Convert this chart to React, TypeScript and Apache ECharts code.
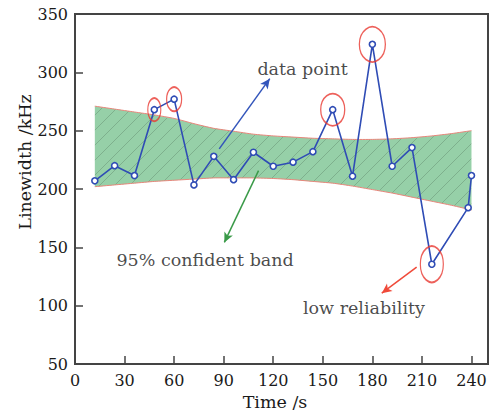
import React, { useEffect, useRef } from "react";
import * as echarts from "echarts";

// ---- data ----
const times = [12, 24, 36, 48, 60, 72, 84, 96, 108, 120, 132, 144, 156, 168, 180, 192, 204, 216, 238, 240];
const linewidth = [207, 220, 211.5, 268, 277, 203.5, 228, 208, 231.5, 219.5, 223, 232, 268, 211, 324, 219.5, 235.5, 135.5, 184, 211.5];

const bandTimes = [12, 24, 36, 48, 60, 72, 84, 96, 108, 120, 132, 144, 156, 168, 180, 192, 204, 216, 228, 240];
const bandUpper = [271, 268.5, 266, 263.5, 260.5, 256, 252, 249.5, 247, 245.5, 244.5, 243.5, 243, 242.5, 242.5, 243, 244, 245.5, 247.5, 250];
const bandLower = [202, 203.5, 205, 206.5, 207.5, 208.5, 209.5, 209.5, 209.5, 209, 208, 206.5, 205, 202.5, 199.5, 196.5, 193, 189.5, 186, 182];

const outlierIndex = [3, 4, 12, 14, 17];

const xTicks = [0, 30, 60, 90, 120, 150, 180, 210, 240];
const yTicks = [50, 100, 150, 200, 250, 300, 350];

const annotationTexts = ["data point", "95% confident band", "low reliability"];
const annotationAnchors = [
  [110.4, 302.6],
  [25.1, 139.3],
  [138, 97.8],
];
const arrowStarts = [
  [87.3, 234.4],
  [111.1, 215.8],
  [206.8, 133.1],
];
const arrowEnds = [
  [117.9, 294.6],
  [90.4, 154.2],
  [185.7, 110.7],
];

// ---- styles ----
const FONT = "DejaVu Serif";
const ellipseSizes = [
  [13, 23],
  [15, 24],
  [24, 32],
  [26, 35],
  [23, 36],
];
const arrowColors = ["#3355bb", "#3a9a48", "#f04a3a"];

function makeHatch(): HTMLCanvasElement {
  const s = 15;
  const c = document.createElement("canvas");
  c.width = s;
  c.height = s;
  const ctx = c.getContext("2d")!;
  ctx.fillStyle = "#96d0a8";
  ctx.fillRect(0, 0, s, s);
  ctx.strokeStyle = "rgba(80,115,90,0.38)";
  ctx.lineWidth = 0.9;
  ctx.beginPath();
  ctx.moveTo(-1, s + 1);
  ctx.lineTo(s + 1, -1);
  ctx.stroke();
  return c;
}

export default function App() {
  const ref = useRef<HTMLDivElement>(null);
  useEffect(() => {
    if (!ref.current) return;
    const chart = echarts.init(ref.current, null, { renderer: "svg" });
    const hatch = makeHatch();

    const mainData = times.map((t, i) => [t, linewidth[i]]);
    const bandData = bandTimes.map((t, i) => [t, bandLower[i], bandUpper[i]]);
    const outlierData = outlierIndex.map((idx, k) => ({
      value: [times[idx], linewidth[idx]],
      symbolSize: ellipseSizes[k],
    }));
    const annData = annotationTexts.map((txt, i) => ({
      value: annotationAnchors[i],
      label: { formatter: txt },
    }));
    const arrowData = arrowStarts.map((s, i) => [
      { coord: s, lineStyle: { color: arrowColors[i], width: 1.5, type: "solid" }, itemStyle: { color: arrowColors[i] } },
      { coord: arrowEnds[i], itemStyle: { color: arrowColors[i] } },
    ]);

    chart.setOption({
      animation: false,
      backgroundColor: "#ffffff",
      grid: {
        left: 75,
        right: 4,
        top: 14,
        bottom: 53,
        show: true,
        borderColor: "#444",
        borderWidth: 2,
        backgroundColor: "transparent",
      },
      xAxis: {
        type: "value",
        min: xTicks[0],
        max: 250,
        interval: xTicks[1] - xTicks[0],
        axisLine: { show: true, lineStyle: { color: "#444", width: 2 } },
        axisTick: { show: true, inside: true, length: 8, lineStyle: { color: "#444", width: 1.5 } },
        axisLabel: { showMaxLabel: false, margin: 8, color: "#1a1a1a", fontFamily: FONT, fontSize: 16 },
        splitLine: { show: false },
      },
      yAxis: {
        type: "value",
        min: yTicks[0],
        max: yTicks[yTicks.length - 1],
        interval: yTicks[1] - yTicks[0],
        axisLine: { show: true, lineStyle: { color: "#444", width: 2 } },
        axisTick: { show: true, inside: true, length: 8, lineStyle: { color: "#444", width: 1.5 } },
        axisLabel: { margin: 7, color: "#1a1a1a", fontFamily: FONT, fontSize: 16 },
        splitLine: { show: false },
      },
      graphic: [
        {
          type: "text",
          x: 275,
          y: 402,
          style: {
            text: "Time /s",
            font: `17.5px "${FONT}"`,
            fill: "#1a1a1a",
            align: "center",
            verticalAlign: "middle",
          },
        },
        {
          type: "text",
          x: 25,
          y: 162,
          rotation: Math.PI / 2,
          style: {
            text: "Linewidth /kHz",
            font: `17.5px "${FONT}"`,
            fill: "#1a1a1a",
            align: "center",
            verticalAlign: "middle",
          },
        },
      ],
      series: [
        {
          type: "custom",
          name: "band",
          data: [0],
          z: 1,
          silent: true,
          renderItem: (_params: any, api: any) => {
            const upper = bandData.map((d) => api.coord([d[0], d[2]]));
            const lower = bandData.map((d) => api.coord([d[0], d[1]]));
            const poly = upper.concat(lower.slice().reverse());
            return {
              type: "group",
              children: [
                {
                  type: "polygon",
                  shape: { points: poly },
                  style: { fill: { image: hatch, repeat: "repeat" }, stroke: "none" },
                },
                {
                  type: "polyline",
                  shape: { points: upper, smooth: 0.2 },
                  style: { stroke: "#e8857a", lineWidth: 1, fill: "none" },
                },
                {
                  type: "polyline",
                  shape: { points: lower, smooth: 0.2 },
                  style: { stroke: "#e8857a", lineWidth: 1, fill: "none" },
                },
              ],
            };
          },
        },
        {
          type: "line",
          name: "data",
          data: mainData,
          symbol: "circle",
          symbolSize: 6,
          lineStyle: { color: "#2f4cb5", width: 1.6 },
          itemStyle: { color: "#ffffff", borderColor: "#2f4cb5", borderWidth: 1.6 },
          z: 3,
          markLine: {
            silent: true,
            symbol: ["none", "arrow"],
            symbolSize: [7, 10],
            label: { show: false },
            data: arrowData,
          },
        },
        {
          type: "scatter",
          name: "outliers",
          data: outlierData,
          symbol: "circle",
          itemStyle: { color: "transparent", borderColor: "#e83a32", borderWidth: 1.5 },
          z: 4,
          silent: true,
        },
        {
          type: "scatter",
          name: "annotations",
          data: annData,
          symbolSize: 0,
          itemStyle: { color: "transparent" },
          label: {
            show: true,
            position: "inside",
            align: "left",
            verticalAlign: "middle",
            color: "#1a1a1a",
            fontFamily: FONT,
            fontSize: 17.5,
          },
          z: 5,
          silent: true,
        },
      ],
    });
    return () => chart.dispose();
  }, []);
  return <div ref={ref} style={{ position: "absolute", left: 0, top: 0, width: 492, height: 417 }} />;
}
